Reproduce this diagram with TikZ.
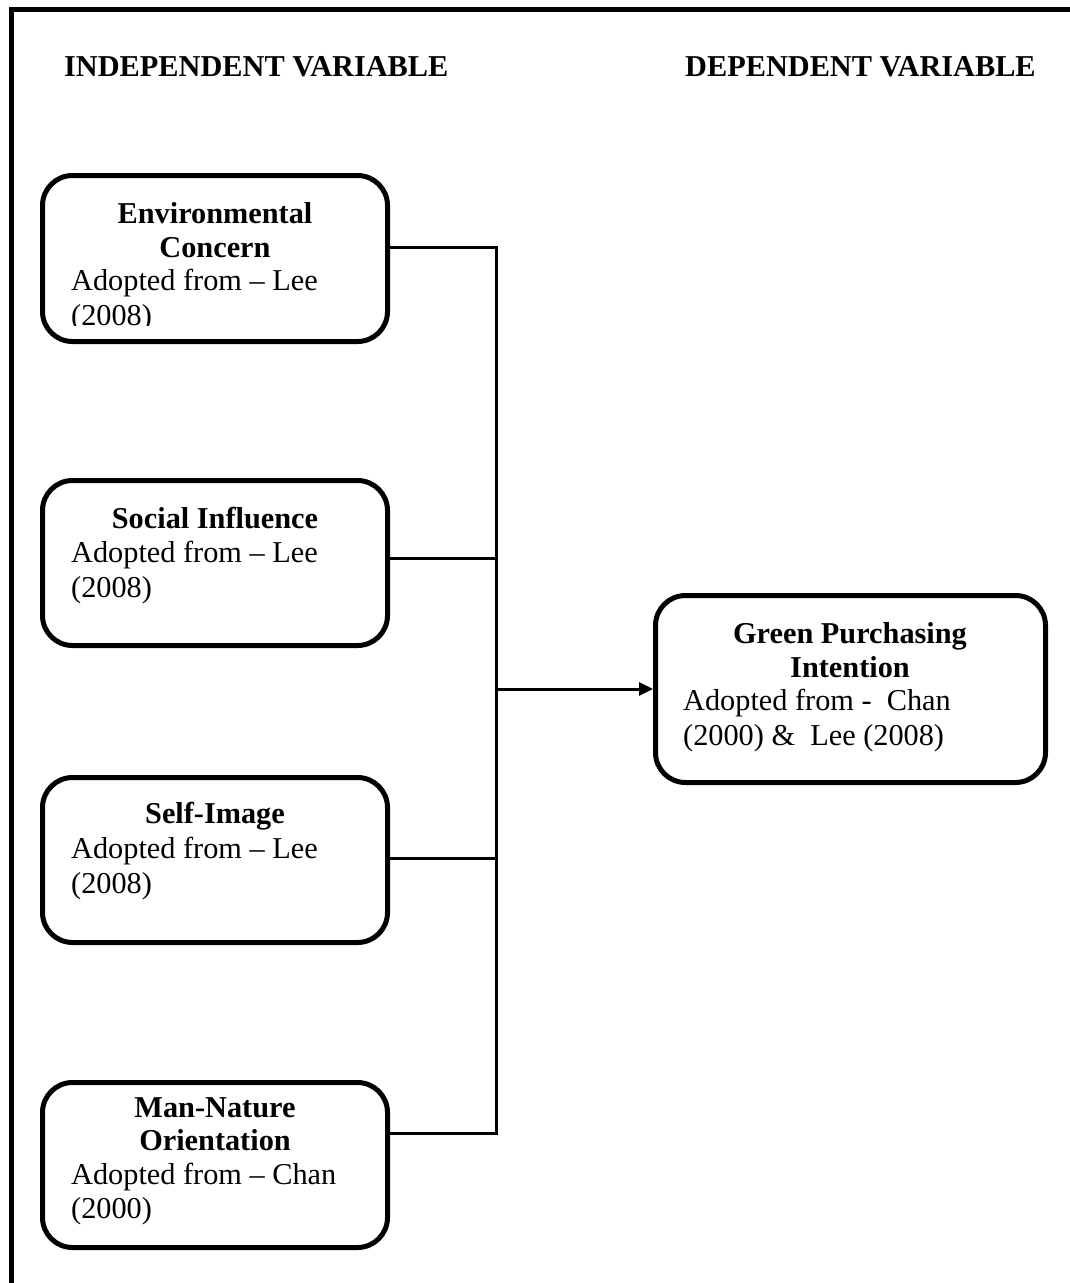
\documentclass[tikz,border=0pt]{standalone}
\usepackage{fontspec}
\setmainfont{Liberation Serif}
\usetikzlibrary{arrows.meta}
\begin{document}
\begin{tikzpicture}[x=1pt,y=-1pt,
  varbox/.style={draw=black, line width=5pt, rounded corners=30pt, inner sep=0pt, fill=white},
  txt/.style={inner sep=0pt, font=\fontsize{30.3}{34.5}\selectfont},
  head/.style={txt, font=\fontsize{30.3}{34.5}\selectfont\bfseries, anchor=base},
  body/.style={txt, anchor=base west},
  conn/.style={draw=black, line width=3pt},
  arr/.style={conn, -{Triangle[length=14pt,width=13pt]}}
]
\useasboundingbox (0,0) rectangle (1070,1283);
% frame
\coordinate (f1) at (11.5,1283);
\coordinate (f2) at (11.5,9.5);
\coordinate (f3) at (1070,9.5);
\draw[line width=5pt, line join=miter] (f1) -- (f2) -- (f3);

% headings
\node[txt, font=\fontsize{30.3}{34.5}\selectfont\bfseries, anchor=base west] (hind) at (64,76) {INDEPENDENT VARIABLE};
\node[txt, font=\fontsize{30.3}{34.5}\selectfont\bfseries, anchor=base west] (hdep) at (685,76) {DEPENDENT VARIABLE};

% boxes
\node[varbox, minimum width=345pt, minimum height=166pt] (b1) at (215,258.5) {};
\node[varbox, minimum width=345pt, minimum height=165pt] (b2) at (215,563) {};
\node[varbox, minimum width=345pt, minimum height=165pt] (b3) at (215,860) {};
\node[varbox, minimum width=345pt, minimum height=165pt] (b4) at (215,1165) {};
\node[varbox, minimum width=390pt, minimum height=187pt] (g) at (850.5,689) {};

% box 1 text (clipped as in the original text box)
\node[head] (t1a) at (215,223) {Environmental};
\node[head] (t1b) at (215,257) {Concern};
\begin{scope}
\clip (45,180) rectangle (385,325);
\node[body] (t1c) at (71,290) {Adopted from – Lee};
\node[body] (t1d) at (71,325) {(2008)};
\end{scope}

% box 2 text
\node[head] (t2a) at (215,528) {Social Influence};
\node[body] (t2b) at (71,562) {Adopted from – Lee};
\node[body] (t2c) at (71,597) {(2008)};

% box 3 text
\node[head] (t3a) at (215,823) {Self-Image};
\node[body] (t3b) at (71,858) {Adopted from – Lee};
\node[body] (t3c) at (71,893) {(2008)};

% box 4 text
\node[head] (t4a) at (215,1117) {Man-Nature};
\node[head] (t4b) at (215,1150) {Orientation};
\node[body] (t4c) at (71,1184) {Adopted from – Chan};
\node[body] (t4d) at (71,1218) {(2000)};

% green box text
\node[head] (tga) at (850,643) {Green Purchasing};
\node[head] (tgb) at (850,677) {Intention};
\node[body] (tgc) at (683,710) {Adopted from -~ Chan};
\node[body] (tgd) at (683,745) {(2000) \&~ Lee (2008)};

% connectors
\coordinate (j1) at (496,247);
\coordinate (j2) at (496,558);
\coordinate (j3) at (496,858);
\coordinate (j4) at (496,1133);
\coordinate (ja) at (496,689);
\draw[conn] (b1.east |- j1) -- (j1);
\draw[conn] (b2.east |- j2) -- (j2);
\draw[conn] (b3.east |- j3) -- (j3);
\draw[conn] (b4.east |- j4) -- (j4);
\draw[conn, line cap=rect] (j1) -- (j4);
\draw[arr] (ja) -- (g.west);
\end{tikzpicture}
\end{document}
